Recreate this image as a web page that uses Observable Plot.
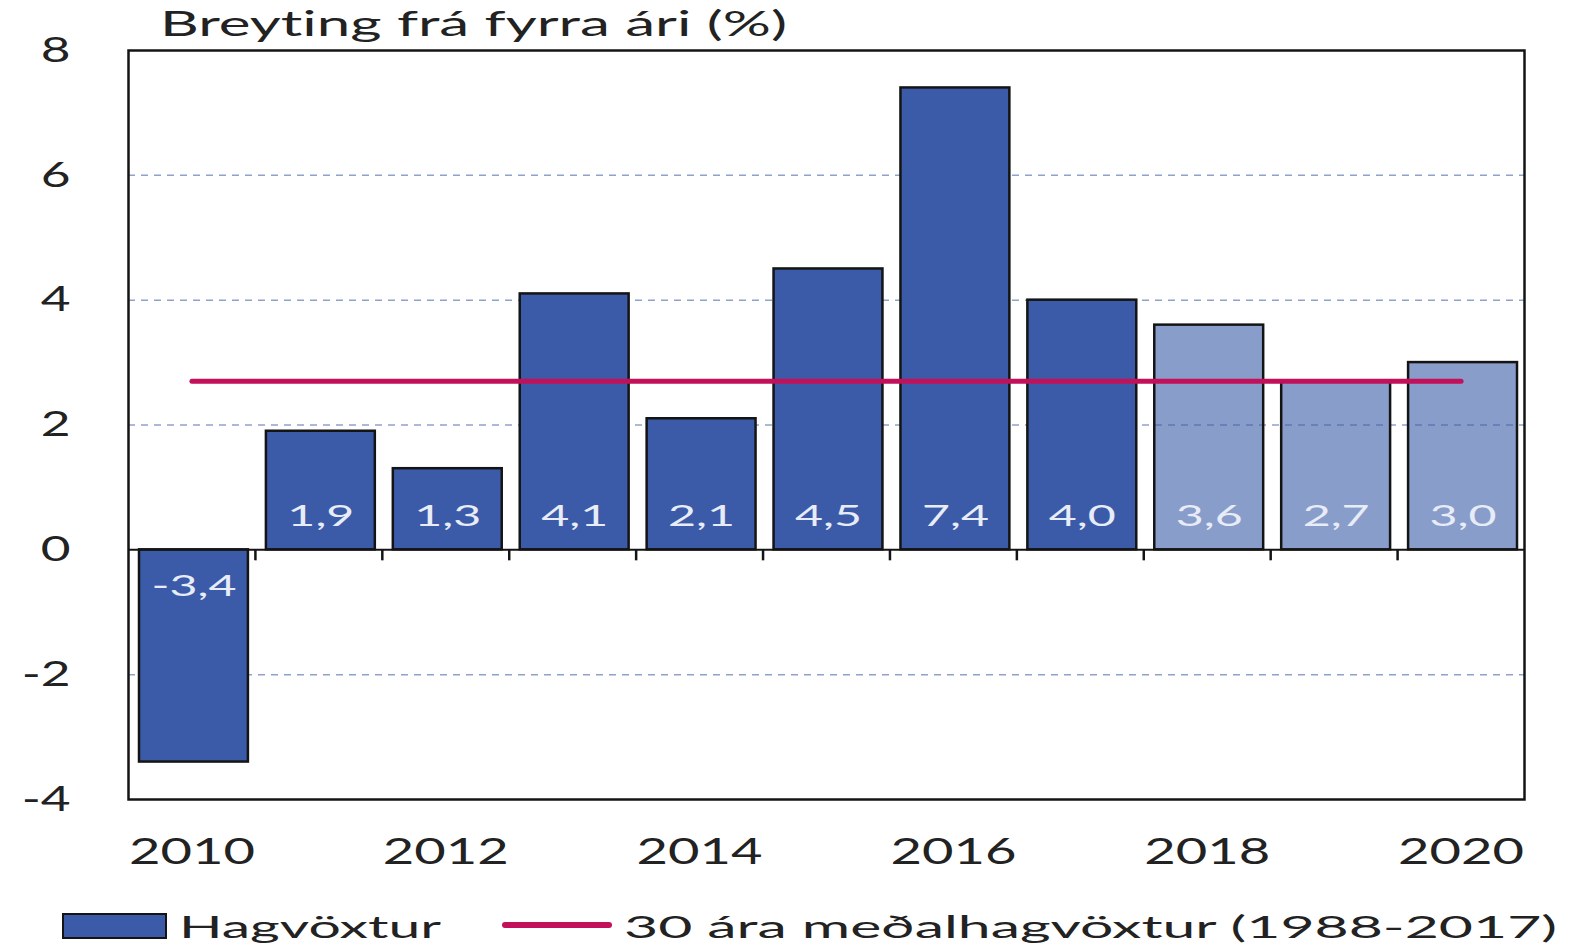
<!DOCTYPE html>
<html>
<head>
<meta charset="utf-8">
<script src="https://cdn.jsdelivr.net/npm/d3@7"></script>
<script src="https://cdn.jsdelivr.net/npm/@observablehq/plot@0.6"></script>
<style>
  body { margin: 0; background: #fff; font-family: Lato, sans-serif; color: #222; font-variant-numeric: lining-nums; font-variant-ligatures: none; font-feature-settings: "lnum" 1, "liga" 0; }
  svg text { font-variant-numeric: lining-nums; font-feature-settings: "lnum" 1, "liga" 0; }
  #wrap { position: relative; width: 1571px; height: 950px; overflow: hidden; background: #fff; }
  .t { position: absolute; white-space: nowrap; transform-origin: 0 0; display: inline-block; }
  #title { left: 160px; top: 0px; font-size: 35px; line-height: 44px; }
  #chart { position: absolute; left: 0; top: 46px; }
  #sw1 { position: absolute; left: 62px; top: 913px; width: 101px; height: 22px; background: #3B5BA9; border: 2px solid #141414; }
  #sw2 { position: absolute; left: 502px; top: 922px; width: 110px; height: 6px; background: #C2105A; border-radius: 3px; }
  #l1 { left: 179px; top: 906px; font-size: 31px; line-height: 40px; }
  #l2 { left: 624px; top: 906px; font-size: 31px; line-height: 40px; }
</style>
</head>
<body>
<div id="wrap">
  <div id="title" class="t">Breyting frá fyrra ári (%)</div>
  <div id="chart"></div>
  <div id="sw1"></div>
  <span id="l1" class="t">Hagvöxtur</span>
  <div id="sw2"></div>
  <span id="l2" class="t">30 ára meðalhagvöxtur (1988-2017)</span>
</div>
<script>
// ---- data ----
const years = [2010, 2011, 2012, 2013, 2014, 2015, 2016, 2017, 2018, 2019, 2020];
const growth = [-3.4, 1.9, 1.3, 4.1, 2.1, 4.5, 7.4, 4.0, 3.6, 2.7, 3.0];
const firstForecastYear = 2018;
const avgGrowth = 2.7;           // 30 ára meðalhagvöxtur (1988-2017)
const yTicks = [-4, -2, 0, 2, 4, 6, 8];
const gridValues = [-2, 2, 4, 6];
const xTicks = [2010, 2012, 2014, 2016, 2018, 2020];

const data = years.map((year, i) => ({ year, value: growth[i], forecast: year >= firstForecastYear }));
const avgData = [{ year: years[0], value: avgGrowth }, { year: years[years.length - 1], value: avgGrowth }];
const boundaries = years.slice(1).map(y => y - 0.5);
const fmt = v => v.toFixed(1).replace(".", ",");

const dark = "#3B5BA9";
const pink = "#C2105A";

const plot = Plot.plot({
  width: 1571,
  height: 852,
  marginTop: 4,
  marginBottom: 99,
  marginLeft: 128,
  marginRight: 47,
  style: { fontFamily: "Lato, sans-serif", color: "#222", background: "#fff", overflow: "visible" },
  x: { domain: [years[0] - 0.5, years[years.length - 1] + 0.5], axis: null, label: null },
  y: { domain: [yTicks[0], yTicks[yTicks.length - 1]], axis: null, label: null },
  marks: [
    Plot.ruleY(gridValues, { stroke: "#8EA2CB", strokeWidth: 1.5, strokeDasharray: "7,6" }),
    Plot.rect(data, {
      x1: d => d.year - 0.5, x2: d => d.year + 0.5,
      y1: d => 0, y2: "value",
      fill: dark, fillOpacity: d => d.forecast ? 0.6 : 1,
      stroke: "#141414", strokeWidth: 2.5,
      insetLeft: 11, insetRight: 7
    }),
    Plot.ruleY([0], { stroke: "#141414", strokeWidth: 2 }),
    Plot.ruleX(boundaries, { x: d => d, y1: d => 0, y2: d => 0, insetBottom: -11, stroke: "#141414", strokeWidth: 2.5 }),
    Plot.lineY(avgData, { x: "year", y: "value", stroke: pink, strokeWidth: 5, strokeLinecap: "round" }),
    Plot.text(data.filter(d => d.value >= 0), { x: "year", y: d => 0, text: d => fmt(d.value), dy: -33, dx: 2, fill: "#E8ECF6", fontSize: 28 }),
    Plot.text(data.filter(d => d.value < 0), { x: "year", y: d => 0, text: d => fmt(d.value), dy: 37, dx: 2, fill: "#E8ECF6", fontSize: 28 }),
    Plot.axisY(yTicks, { anchor: "left", label: null, tickSize: 0, tickPadding: 58, tickFormat: d => String(d), fontSize: 35, fill: "#222" }),
    Plot.axisX(xTicks, { anchor: "bottom", label: null, tickSize: 0, tickPadding: 38, tickFormat: d => String(d), fontSize: 37, fill: "#222" }),
    Plot.frame({ stroke: "#141414", strokeWidth: 2.5 })
  ]
});
document.getElementById("chart").appendChild(plot);

// horizontal stretch of the text to match the reference's wide lettering
function stretchSvgTexts(texts, k) {
  texts.forEach(t => {
    const x = parseFloat(t.getAttribute("x") || "0") || 0;
    const old = t.getAttribute("transform") || "";
    t.setAttribute("transform", `${old} translate(${x},0) scale(${k},1) translate(${-x},0)`);
  });
}
function fitHtml(id, target) {
  const el = document.getElementById(id);
  const w = el.getBoundingClientRect().width;
  el.style.transform = `scaleX(${target / w})`;
}
(document.fonts ? document.fonts.ready : Promise.resolve()).then(() => {
  const texts = Array.from(plot.querySelectorAll("text"));
  const labelTexts = texts.filter(t => t.textContent.includes(","));
  const axisTexts = texts.filter(t => !t.textContent.includes(","));
  const ref2010 = axisTexts.find(t => t.textContent === "2010");
  const kAxis = ref2010 ? 126 / ref2010.getBBox().width : 1.45;
  const ref19 = labelTexts.find(t => t.textContent === "1,9");
  const kLab = ref19 ? 67 / ref19.getBBox().width : 1.7;
  stretchSvgTexts(axisTexts, kAxis);
  stretchSvgTexts(labelTexts, kLab);
  fitHtml("title", 627);
  fitHtml("l1", 262);
  fitHtml("l2", 933);
});
</script>
</body>
</html>
